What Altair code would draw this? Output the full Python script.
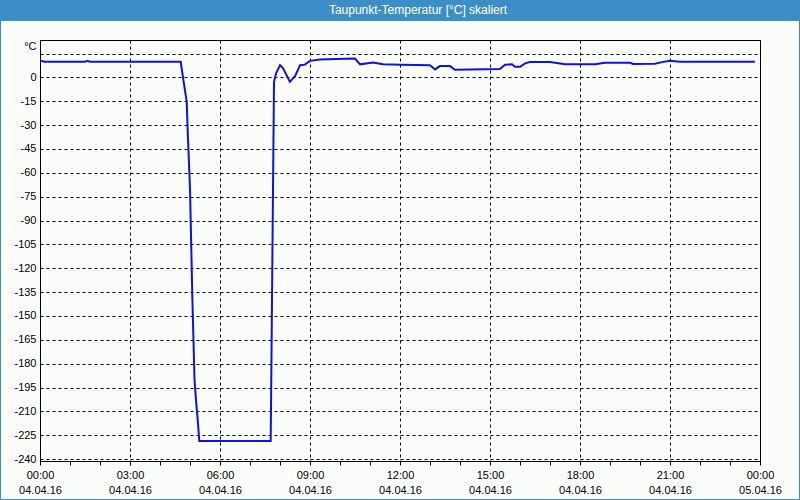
import altair as alt
import pandas as pd

# ---- data ----
hours = [0.0, 0.17, 1.5, 1.57, 1.67, 4.69, 4.78, 4.89, 4.93, 5.0, 5.08, 5.15, 5.2, 5.26, 5.31,
         7.69, 7.8, 7.87, 8.0, 8.1, 8.33, 8.5, 8.67, 8.83, 9.0, 9.33, 9.87, 10.5, 10.67, 11.1,
         11.43, 12.0, 13.0, 13.17, 13.33, 13.67, 13.83, 14.33, 15.33, 15.5, 15.73, 15.83, 16.0,
         16.17, 16.33, 17.0, 17.5, 18.5, 18.83, 19.67, 19.77, 20.5, 20.73, 21.0, 21.33, 23.83]
values = [10.5, 9.8, 9.8, 10.4, 9.8, 9.8, -1.7, -15.3, -37, -70, -140, -190, -203, -216, -228.7,
          -228.7, -2.8, 2.5, 7.7, 5.8, -2.8, 0.8, 7.7, 8.0, 10.4, 11.3, 11.5, 11.8, 8.2, 9.4,
          8.2, 7.9, 7.7, 5.0, 7.1, 7.1, 4.8, 5.0, 5.2, 7.9, 8.2, 6.7, 6.7, 8.8, 9.6, 9.6, 8.2,
          8.2, 9.2, 9.2, 8.4, 8.6, 9.6, 10.4, 9.8, 9.8]

x_ticks = [0, 1, 2, 3, 4, 5, 6, 7, 8, 9, 10, 11, 12, 13, 14, 15, 16, 17, 18, 19, 20, 21, 22, 23, 24]
time_labels = ["00:00", "03:00", "06:00", "09:00", "12:00", "15:00", "18:00", "21:00", "00:00"]
date_labels = ["04.04.16", "04.04.16", "04.04.16", "04.04.16", "04.04.16", "04.04.16",
               "04.04.16", "04.04.16", "05.04.16"]
y_ticks = [-240, -225, -210, -195, -180, -165, -150, -135, -120, -105, -90, -75, -60, -45,
           -30, -15, 0, 15]
unit_label = "°C"
title_text = "Taupunkt-Temperatur [°C] skaliert"

df = pd.DataFrame({"h": hours, "v": values})

FONT = "Liberation Sans"
BLUE_BAR = "#3c8fc6"

def js_arr(lst):
    return "[" + ",".join("'" + s + "'" for s in lst) + "]"

x_label_expr = ("datum.value % 3 == 0 ? [" + js_arr(time_labels) + "[datum.value/3], "
                + js_arr(date_labels) + "[datum.value/3]] : ''")

line = alt.Chart(df).mark_line(color="#1010e8", strokeWidth=2, clip=True).encode(
    x=alt.X("h:Q",
            scale=alt.Scale(domain=[0, 24], nice=False, zero=False),
            axis=alt.Axis(values=x_ticks, title=None, labelExpr=x_label_expr,
                          labelFont=FONT, labelFontSize=11, labelColor="black",
                          labelLineHeight=15, labelPadding=4, labelBaseline="top",
                          labelOverlap=False, labelFlush=False,
                          tickSize=4, tickColor="black", domainColor="black",
                          grid=True,
                          gridColor={"condition": {"test": "datum.value % 3 == 0", "value": "black"},
                                     "value": "transparent"},
                          gridDash=[3, 3], gridWidth=1)),
    y=alt.Y("v:Q",
            scale=alt.Scale(domain=[-241.2, 23.5], nice=False, zero=False),
            axis=alt.Axis(values=y_ticks, title=unit_label, titleAngle=0, titleAlign="right",
                          titleBaseline="middle", titleX=-4, titleY=6, titleFont=FONT,
                          titleFontSize=11, titleFontWeight="normal", titleColor="black",
                          labelExpr="datum.value == 15 ? '' : '' + datum.value",
                          labelFont=FONT, labelFontSize=11, labelColor="black",
                          labelPadding=4, ticks=False, domainColor="black",
                          grid=True, gridColor="black", gridDash=[3, 3], gridWidth=1)),
)

one = alt.Data(values=[{"k": 1}])

bar = alt.Chart(one).mark_rect(color=BLUE_BAR, clip=False).encode(
    x=alt.value(-40), x2=alt.value(760), y=alt.value(-40), y2=alt.value(-19))

border = alt.Chart(one).mark_rect(filled=False, stroke=BLUE_BAR, strokeWidth=1, clip=False).encode(
    x=alt.value(-39.5), x2=alt.value(759.5), y=alt.value(-20), y2=alt.value(459.5))

title = alt.Chart(one).mark_text(color="white", font=FONT, fontSize=12, align="center",
                                 baseline="middle").encode(
    x=alt.value(378), y=alt.value(-30), text=alt.value(title_text))

chart = alt.layer(bar, border, title, line).properties(
    width=720, height=421,
    padding={"left": 40, "top": 40, "right": 40, "bottom": 39},
    autosize=alt.AutoSizeParams(type="none"),
    background="#fbfdfb",
).configure_view(stroke="black", strokeWidth=1)

chart.save("out.html", embed_options={"renderer": "svg", "actions": False})
